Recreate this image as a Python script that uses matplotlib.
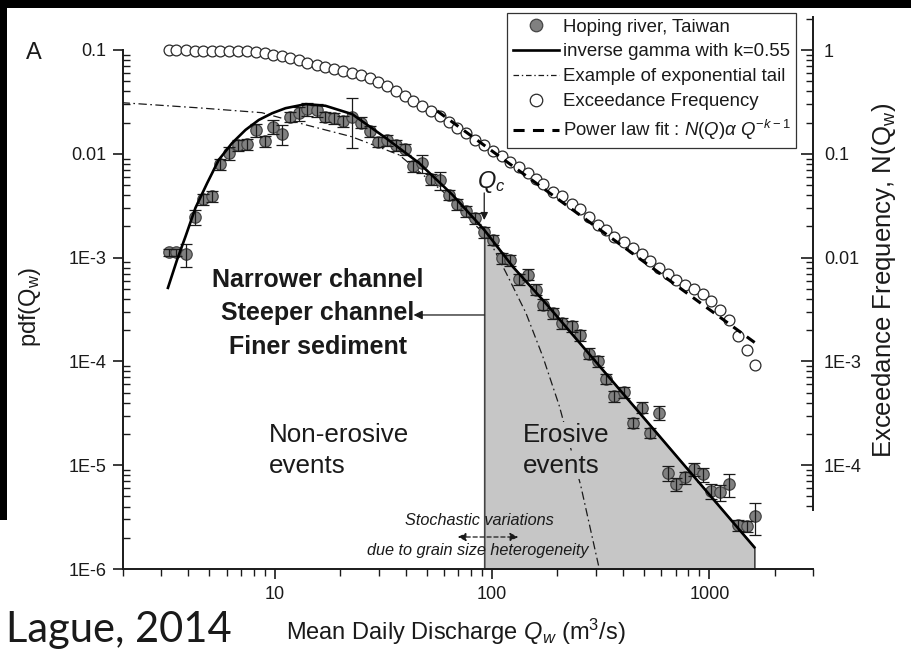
import numpy as np
import matplotlib
matplotlib.use("Agg")
import matplotlib.pyplot as plt
from matplotlib.lines import Line2D
from matplotlib.patches import Rectangle, FancyArrowPatch
from matplotlib.ticker import FixedLocator, LogLocator, NullFormatter

plt.rcParams['font.family'] = ['Liberation Sans', 'DejaVu Sans']
plt.rcParams['mathtext.fontset'] = 'custom'
plt.rcParams['mathtext.rm'] = 'Liberation Sans'
plt.rcParams['mathtext.it'] = 'Liberation Sans:italic'
plt.rcParams['mathtext.bf'] = 'Liberation Sans:bold'
plt.rcParams['lines.scale_dashes'] = False

# binned daily discharge (m3/s), Hoping river
Q_bins = [3.25, 3.51, 3.88, 4.28, 4.66, 5.11, 5.62, 6.18, 6.77, 7.41,
          8.15, 8.97, 9.82, 10.8, 11.8, 12.9, 14.1, 15.6, 17.1, 18.7,
          20.6, 22.7, 25.0, 27.3, 29.9, 32.9, 36.0, 39.7, 43.4, 47.7,
          52.5, 57.4, 63.4, 69.2, 76.1, 83.5, 91.9, 101, 111, 121,
          133, 147, 160, 172, 191, 210, 233, 254, 278, 307,
          334, 365, 406, 443, 488, 533, 588, 643, 702, 773,
          847, 931, 1018, 1120, 1237, 1350, 1486, 1629]

pdf_obs = [1.13e-3, 1.12e-3, 1.09e-3, 2.46e-3, 3.67e-3, 3.88e-3, 8.0e-3, 1.02e-2, 1.22e-2, 1.24e-2,
           1.70e-2, 1.33e-2, 1.83e-2, 1.56e-2, 2.28e-2, 2.46e-2, 2.69e-2, 2.65e-2, 2.28e-2, 2.20e-2,
           2.05e-2, 2.28e-2, 2.00e-2, 1.64e-2, 1.31e-2, 1.36e-2, 1.22e-2, 1.11e-2, 7.67e-3, 8.14e-3,
           5.71e-3, 5.54e-3, 4.04e-3, 3.30e-3, 2.79e-3, 2.41e-3, 1.75e-3, 1.49e-3, 9.93e-4, 9.42e-4,
           6.24e-4, 6.87e-4, 4.92e-4, 3.53e-4, 2.94e-4, 2.32e-4, 2.18e-4, 1.78e-4, 1.19e-4, 1.01e-4,
           6.82e-5, 4.64e-5, 5.07e-5, 2.57e-5, 3.59e-5, 2.06e-5, 3.21e-5, 8.38e-6, 6.57e-6, 7.62e-6,
           9.16e-6, 8.19e-6, 5.66e-6, 5.46e-6, 6.57e-6, 2.65e-6, 2.61e-6, 3.25e-6]

# relative standard error of each pdf estimate
pdf_err = [0.08, 0.08, 0.25, 0.16, 0.12, 0.12, 0.12, 0.14, 0.12, 0.12,
           0.15, 0.12, 0.15, 0.22, 0.12, 0.15, 0.14, 0.14, 0.12, 0.12,
           0.12, 0.50, 0.12, 0.12, 0.12, 0.12, 0.12, 0.12, 0.12, 0.20,
           0.12, 0.20, 0.12, 0.12, 0.12, 0.12, 0.12, 0.12, 0.12, 0.12,
           0.12, 0.12, 0.12, 0.12, 0.12, 0.12, 0.12, 0.12, 0.12, 0.12,
           0.12, 0.12, 0.12, 0.12, 0.12, 0.12, 0.15, 0.16, 0.14, 0.14,
           0.15, 0.15, 0.17, 0.17, 0.25, 0.12, 0.12, 0.34]

exceedance = [0.995, 0.993, 0.990, 0.989, 0.987, 0.985, 0.982, 0.978, 0.974, 0.969,
              0.957, 0.932, 0.903, 0.876, 0.841, 0.801, 0.756, 0.713, 0.680, 0.657,
              0.631, 0.604, 0.576, 0.539, 0.497, 0.448, 0.403, 0.359, 0.324, 0.288,
              0.257, 0.230, 0.204, 0.179, 0.157, 0.136, 0.122, 0.1076, 0.0946, 0.0841,
              0.0750, 0.0649, 0.0567, 0.0509, 0.0426, 0.0388, 0.0331, 0.0296, 0.0244, 0.0208,
              0.0186, 0.0159, 0.0140, 0.0123, 0.0108, 0.00936, 0.00798, 0.00694, 0.00611, 0.00550,
              0.00503, 0.00443, 0.00378, 0.00316, 0.00248, 0.00174, 0.00128, 0.000925]

# inverse gamma model, k = 0.55
ig_Q = [3.22, 3.55, 3.88, 4.31, 4.88, 5.52, 6.36, 7.33, 8.44, 9.72, 11.2, 13.9,
        17.1, 22.7, 32.4, 46.1, 65.6, 92, 125, 177, 529, 1611]
ig_pdf = [5.11e-4, 9.57e-4, 1.60e-3, 3.01e-3, 5.22e-3, 8.75e-3, 1.27e-2, 1.70e-2, 2.12e-2, 2.46e-2,
          2.75e-2, 3.01e-2, 2.90e-2, 2.41e-2, 1.42e-2, 8.15e-3, 4.04e-3, 1.85e-3, 8.1e-4, 3.61e-4,
          2.48e-5, 1.62e-6]

# example with an exponential tail
ex_Q = [1.97, 4.47, 8.71, 13.9, 22.6, 37.3, 63.4, 96.8, 116, 143, 171, 204, 256, 309]
ex_pdf = [3.11e-2, 2.77e-2, 2.49e-2, 1.90e-2, 1.46e-2, 9.77e-3, 3.86e-3, 1.49e-3, 7.13e-4,
          2.94e-4, 1.12e-4, 3.71e-5, 6.33e-6, 1.08e-6]

# power law fit on the exceedance frequency
fit_Q = [55.8, 1663]
fit_N = [0.259, 1.456e-3]

Qc = 92

x_ticks = [10, 100, 1000]
x_labels = ['10', '100', '1000']
yl_ticks = [1e-6, 1e-5, 1e-4, 1e-3, 1e-2, 1e-1]
yl_labels = ['1E-6', '1E-5', '1E-4', '1E-3', '0.01', '0.1']
yr_ticks = [1e-4, 1e-3, 1e-2, 1e-1, 1]
yr_labels = ['1E-4', '1E-3', '0.01', '0.1', '1']

W, H = 911, 659


def fp(x, y):
    return (x / W, 1 - y / H)


ink = '#1a1a1a'
fig = plt.figure(figsize=(W / 100, H / 100), dpi=100)
fig.patch.set_facecolor('white')
# dark border along the top and upper left edge
fig.add_artist(Rectangle((0, 1 - 8 / H), 1, 8 / H, transform=fig.transFigure,
                         facecolor='black', edgecolor='none', zorder=-10))
fig.add_artist(Rectangle((0, 1 - 520 / H), 7 / W, 520 / H, transform=fig.transFigure,
                         facecolor='black', edgecolor='none', zorder=-10))

ax = fig.add_axes([123 / W, 1 - 569 / H, 690 / W, 519 / H])
ax.set_xscale('log')
ax.set_yscale('log')
ax.set_xlim(2, 3000)
ax.set_ylim(1e-6, 0.1)
ax.patch.set_visible(False)

Q_arr = np.array(Q_bins)
pdf_arr = np.array(pdf_obs)
err = pdf_arr * np.array(pdf_err)

# erosive part of the distribution
igQ = np.array(ig_Q)
igP = np.array(ig_pdf)
sel = igQ >= Qc
ax.fill_between(igQ[sel], igP[sel], 1e-6, facecolor='#c6c6c6', edgecolor='#444444', lw=1.2, zorder=1)

ax.plot(ex_Q, ex_pdf, color=ink, lw=0.9, dashes=(6, 2.5, 1.2, 2.5), zorder=2)
ax.plot(Q_arr, pdf_arr, 'o', ms=8.2, mfc='#808080', mec='#454545', mew=0.9, zorder=3)
ax.errorbar(Q_arr, pdf_arr, yerr=err, fmt='none', ecolor=ink, elinewidth=0.9,
            capsize=4.2, capthick=0.9, zorder=4)
ax.plot(igQ, igP, color='black', lw=1.9, zorder=5)

for s in ['top', 'right']:
    ax.spines[s].set_visible(False)
for s in ['left', 'bottom']:
    ax.spines[s].set_linewidth(1.4)
    ax.spines[s].set_color(ink)

ax.xaxis.set_major_locator(FixedLocator(x_ticks))
ax.set_xticklabels(x_labels)
ax.xaxis.set_minor_locator(LogLocator(base=10, subs=np.arange(2, 10), numticks=30))
ax.xaxis.set_minor_formatter(NullFormatter())
ax.yaxis.set_major_locator(FixedLocator(yl_ticks))
ax.set_yticklabels(yl_labels)
ax.yaxis.set_minor_locator(LogLocator(base=10, subs=np.arange(2, 10), numticks=30))
ax.yaxis.set_minor_formatter(NullFormatter())
ax.tick_params(axis='x', which='major', direction='out', length=7, width=1.2, pad=5,
               labelsize=13, colors=ink)
ax.tick_params(axis='x', which='minor', direction='out', length=5, width=1.0, colors=ink)
ax.tick_params(axis='y', which='major', direction='out', length=7, width=1.2, pad=5,
               labelsize=13, colors=ink)
ax.tick_params(axis='y', which='minor', direction='in', length=5, width=1.0, colors=ink)

# exceedance frequency on its own right-hand axis
ax2 = fig.add_axes([123 / W, 1 - 510 / H, 690 / W, 493 / H])
ax2.set_xscale('log')
ax2.set_yscale('log')
ax2.set_xlim(2, 3000)
ax2.set_ylim(3.70e-5, 2.08)
ax2.patch.set_visible(False)
for s in ['top', 'left', 'bottom']:
    ax2.spines[s].set_visible(False)
ax2.spines['right'].set_linewidth(1.4)
ax2.spines['right'].set_color(ink)
ax2.xaxis.set_visible(False)
ax2.yaxis.tick_right()
ax2.yaxis.set_major_locator(FixedLocator(yr_ticks))
ax2.set_yticklabels(yr_labels)
ax2.yaxis.set_minor_locator(LogLocator(base=10, subs=np.arange(2, 10), numticks=30))
ax2.yaxis.set_minor_formatter(NullFormatter())
ax2.tick_params(axis='y', which='major', direction='in', length=9, width=1.2, pad=8,
                labelsize=13, colors=ink)
ax2.tick_params(axis='y', which='minor', direction='in', length=5, width=1.0, colors=ink)

ax2.plot(Q_arr, exceedance, 'o', ms=7.8, mfc='white', mec='#2a2a2a', mew=0.9, zorder=3)
ax2.plot(fit_Q, fit_N, color='black', lw=2.2, dashes=(7, 5), zorder=4)

# labels
fig.text(*fp(30, 307), r'pdf(Q$_\mathrm{w}$)', rotation=90, ha='center', va='center',
         fontsize=17, color=ink)
fig.text(*fp(884, 280), r'Exceedance Frequency, N(Q$_\mathrm{w}$)', rotation=90,
         ha='center', va='center', fontsize=18.5, color=ink)
fig.text(*fp(456, 632), r'Mean Daily Discharge $Q_w$ (m$^3$/s)', ha='center', va='center',
         fontsize=17, color=ink)
fig.text(*fp(6, 630), 'Lague, 2014', ha='left', va='center', fontsize=30,
         family=['Lato', 'DejaVu Sans'], color=ink)
fig.text(*fp(34, 53), 'A', ha='center', va='center', fontsize=17, color=ink)

# annotations
for txt, yy in [('Narrower channel', 280), ('Steeper channel', 313), ('Finer sediment', 347)]:
    fig.text(*fp(318, yy), txt, ha='center', va='center', fontsize=18,
             fontweight='bold', color=ink)
ax.annotate('', xy=(43.5, 2.8e-4), xytext=(Qc, 2.8e-4),
            arrowprops=dict(arrowstyle='-|>', color=ink, lw=0.9, mutation_scale=13,
                            shrinkA=0, shrinkB=0))
ax.annotate('', xy=(Qc, 2.3e-3), xytext=(Qc, 4.2e-3),
            arrowprops=dict(arrowstyle='-|>', color=ink, lw=0.9, mutation_scale=11,
                            shrinkA=0, shrinkB=0), zorder=6)
fig.text(*fp(491, 188), r'$Q_c$', ha='center', va='baseline', fontsize=17, color=ink)

fig.text(*fp(269, 442), 'Non-erosive', ha='left', va='baseline', fontsize=18.7, color=ink)
fig.text(*fp(269, 473), 'events', ha='left', va='baseline', fontsize=18.7, color=ink)
fig.text(*fp(523, 442), 'Erosive', ha='left', va='baseline', fontsize=18.7, color=ink, zorder=3,
         bbox=dict(facecolor='#c6c6c6', edgecolor='none', pad=1))
fig.text(*fp(523, 473), 'events', ha='left', va='baseline', fontsize=18.7, color=ink, zorder=3,
         bbox=dict(facecolor='#c6c6c6', edgecolor='none', pad=1))

fig.text(*fp(479, 525), 'Stochastic variations', ha='center', va='baseline', fontsize=11.7,
         style='italic', color=ink)
fig.text(*fp(478, 555), 'due to grain size heterogeneity', ha='center', va='baseline',
         fontsize=11.7, style='italic', color=ink)
fig.add_artist(FancyArrowPatch(
    fp(455, 537), fp(521, 537), transform=fig.transFigure, arrowstyle='<|-|>',
    mutation_scale=12, color=ink, lw=0.9, linestyle=(0, (3, 2))))

handles = [
    Line2D([], [], marker='o', ls='none', ms=9, mfc='#808080', mec='#454545', mew=0.9),
    Line2D([], [], color='black', lw=1.9),
    Line2D([], [], color=ink, lw=0.9, dashes=(4, 2, 1, 2)),
    Line2D([], [], marker='o', ls='none', ms=9, mfc='white', mec='#2a2a2a', mew=0.9),
    Line2D([], [], color='black', lw=2.2, dashes=(8, 6)),
]
labels = ['Hoping river, Taiwan', 'inverse gamma with k=0.55', 'Example of exponential tail',
          'Exceedance Frequency', r'Power law fit : $N(Q)\alpha\ Q^{-k-1}$']
leg = fig.legend(handles, labels, loc='upper left', bbox_to_anchor=fp(507, 13),
                 frameon=True, fancybox=False, framealpha=1, edgecolor='#333333',
                 fontsize=13.4, handlelength=2.5, handletextpad=0.2, borderpad=0.3,
                 labelspacing=0.42, borderaxespad=0)
leg.get_frame().set_linewidth(0.9)
for t in leg.get_texts():
    t.set_color(ink)

fig.savefig('out.png', dpi=100, facecolor=fig.get_facecolor())
